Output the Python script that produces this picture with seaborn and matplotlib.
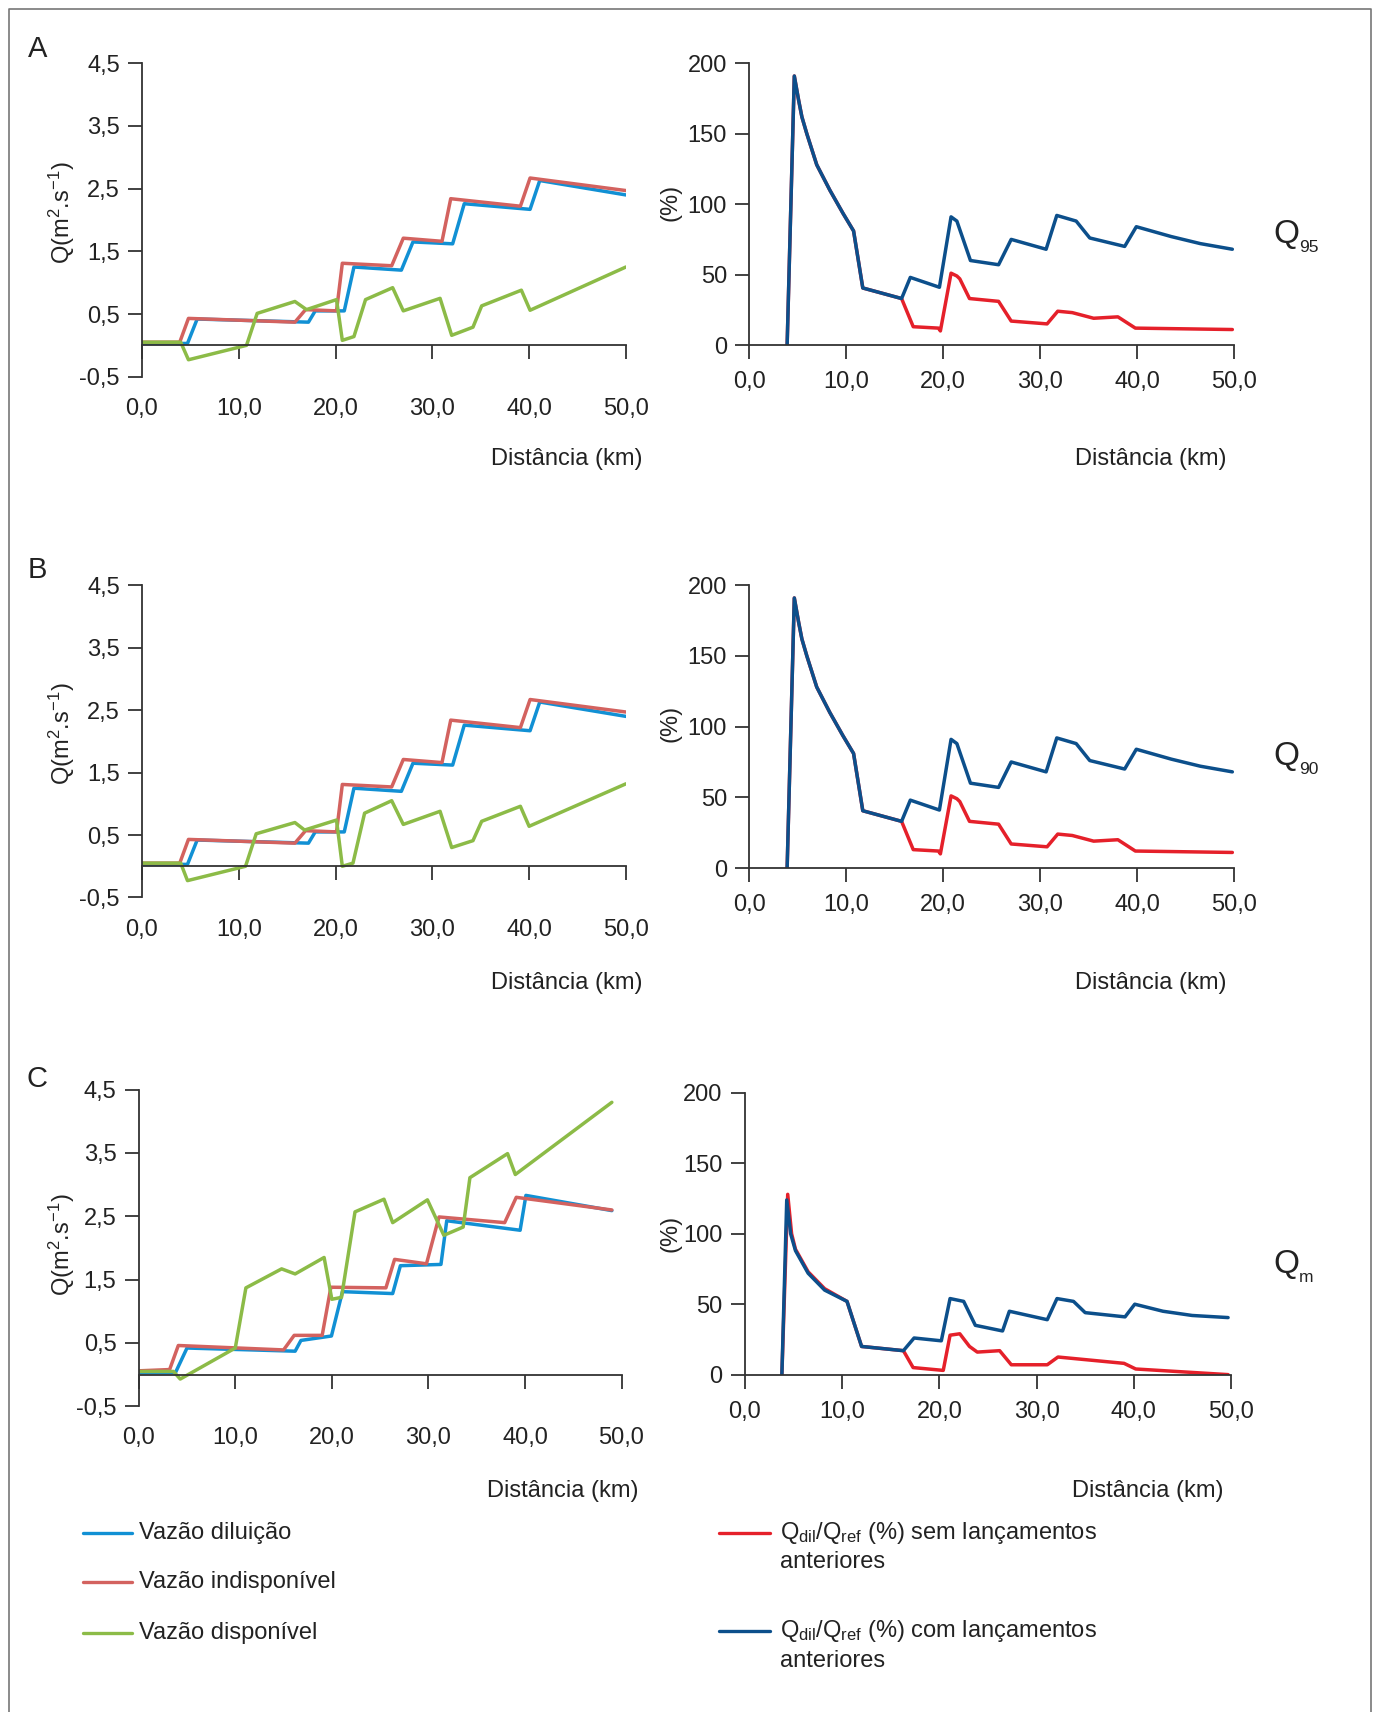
import matplotlib
matplotlib.use("Agg")
import matplotlib.pyplot as plt
import seaborn as sns
from matplotlib.lines import Line2D

# Perfis de vazão ao longo do rio (distância em km) e razão Qdil/Qref (%)

# ---- A (Q95) : vazões ----
dist_dil_A = [0, 4.7, 5.7, 17.2, 17.9, 20.9, 21.9, 26.8, 28.0, 32.1, 33.3, 40.1, 41.1, 50]
q_dil_A = [0.03, 0.03, 0.42, 0.37, 0.55, 0.55, 1.25, 1.20, 1.65, 1.62, 2.26, 2.17, 2.63, 2.40]
dist_ind_A = [0, 3.9, 4.8, 15.8, 16.9, 20.1, 20.7, 25.8, 27.0, 31.0, 31.9, 39.1, 40.1, 50]
q_ind_A = [0.05, 0.05, 0.43, 0.37, 0.57, 0.55, 1.31, 1.27, 1.71, 1.66, 2.34, 2.22, 2.67, 2.47]
dist_disp_A = [0, 4.0, 4.8, 10.8, 11.9, 15.8, 17.0, 20.1, 20.7, 21.9, 23.1, 25.9, 27.0, 30.8,
               32.0, 34.2, 35.1, 39.2, 40.1, 50]
q_disp_A = [0.05, 0.05, -0.23, 0.0, 0.51, 0.70, 0.57, 0.73, 0.08, 0.14, 0.73, 0.92, 0.55, 0.75,
            0.16, 0.29, 0.63, 0.88, 0.56, 1.25]

# ---- A (Q95) : razão (%) ----
dist_com_A = [3.9, 4.64, 5.08, 5.42, 5.93, 6.95, 8.3, 9.66, 10.75, 11.7, 15.7, 16.6, 19.6, 20.8,
              21.4, 22.8, 25.7, 27.0, 30.6, 31.7, 33.7, 35.1, 38.7, 39.9, 43.5, 46.5, 49.8]
pct_com_A = [0, 191, 174, 162, 150, 128, 110, 93.5, 81, 40.5, 33, 48, 41, 91,
             88, 60, 57, 75, 68, 92, 88, 76, 70, 84, 77, 72, 68]
dist_sem_A = [3.9, 4.64, 5.08, 5.42, 5.93, 6.95, 8.3, 9.66, 10.75, 11.7, 15.7, 16.9, 19.5, 19.7,
              20.8, 21.4, 21.7, 22.7, 25.7, 27.0, 30.7, 31.8, 33.3, 35.5, 38.0, 39.8, 49.8]
pct_sem_A = [0, 191, 174, 162, 150, 128, 110, 93.5, 81, 40.5, 33, 13, 12, 10,
             51, 49, 47, 33, 31, 17, 15, 24, 23, 19, 20, 12, 11]

# ---- B (Q90) : só a vazão disponível muda em relação a A ----
dist_disp_B = [0, 4.0, 4.7, 10.7, 11.8, 15.8, 16.8, 20.1, 20.7, 21.8, 23.0, 25.8, 27.0, 30.8,
               32.0, 34.2, 35.1, 39.1, 40.0, 50]
q_disp_B = [0.05, 0.05, -0.23, 0.0, 0.52, 0.70, 0.58, 0.74, 0.0, 0.05, 0.85, 1.05, 0.67, 0.88,
            0.30, 0.41, 0.72, 0.96, 0.64, 1.32]

# ---- C (Qm) : vazões ----
dist_dil_C = [0, 3.8, 5.0, 16.2, 16.8, 19.96, 21.1, 26.3, 27.1, 31.3, 31.9, 39.5, 40.1, 49.0]
q_dil_C = [0.03, 0.03, 0.42, 0.37, 0.54, 0.61, 1.31, 1.28, 1.72, 1.74, 2.43, 2.28, 2.83, 2.59]
dist_ind_C = [0, 3.2, 4.1, 15.0, 16.1, 19.0, 19.9, 25.6, 26.5, 29.8, 31.1, 37.9, 39.1, 49.0]
q_ind_C = [0.06, 0.08, 0.46, 0.39, 0.62, 0.62, 1.38, 1.37, 1.82, 1.75, 2.49, 2.40, 2.80, 2.60]
dist_disp_C = [0, 3.6, 4.3, 10.0, 11.1, 14.8, 16.2, 19.2, 20.0, 21.0, 22.4, 25.4, 26.3, 29.9,
               31.6, 33.6, 34.3, 38.2, 39.0, 49.0]
q_disp_C = [0.05, 0.05, -0.07, 0.42, 1.37, 1.67, 1.59, 1.85, 1.19, 1.22, 2.57, 2.77, 2.40, 2.76,
            2.20, 2.33, 3.11, 3.49, 3.16, 4.30]

# ---- C (Qm) : razão (%) ----
dist_com_C = [3.8, 4.3, 4.7, 5.2, 6.5, 8.2, 10.5, 12.0, 16.3, 17.4, 20.2, 21.1, 22.5, 23.7,
              26.5, 27.2, 31.1, 32.1, 33.8, 35.0, 39.1, 40.1, 43.0, 46.0, 49.7]
pct_com_C = [0, 124, 100, 88, 72, 60, 52, 20, 17, 26, 24, 54, 52, 35,
             31, 45, 39, 54, 52, 44, 41, 50, 45, 42, 40.5]
dist_sem_C = [3.8, 4.4, 4.8, 5.2, 6.5, 8.2, 10.5, 12.0, 16.3, 17.3, 20.4, 21.1, 22.1, 23.1,
              23.9, 26.2, 27.4, 31.1, 32.2, 39.0, 40.2, 49.7]
pct_sem_C = [0, 128, 100, 89, 73, 61, 52, 20, 17, 5, 3, 28, 29, 20,
             16, 17, 7, 7, 12.5, 8, 4, 0]

# Ticks
ticks_q = [-0.5, 0.5, 1.5, 2.5, 3.5, 4.5]
labels_q = ["-0,5", "0,5", "1,5", "2,5", "3,5", "4,5"]
ticks_pct = [0, 50, 100, 150, 200]
ticks_dist = [0, 10, 20, 30, 40, 50]
labels_dist = ["0,0", "10,0", "20,0", "30,0", "40,0", "50,0"]

# Cores
cor_dil = "#1190d4"
cor_ind = "#d3625f"
cor_disp = "#8cbb47"
cor_sem = "#e5202a"
cor_com = "#0c4f8b"
cor_eixo = "#333333"

sns.set_theme(style="white")
plt.rcParams["font.family"] = ["Liberation Sans", "DejaVu Sans"]
plt.rcParams["axes.edgecolor"] = cor_eixo
plt.rcParams["axes.linewidth"] = 1.3

FS = 17
W, H = 1257.0, 1568.0  # referência para posicionar (px da imagem reduzida)

fig = plt.figure(figsize=(13.73, 17.12), dpi=100)
fig.patch.set_facecolor("white")


def box(x0, y_top, x1, y_bot):
    return [x0 / W, 1 - y_bot / H, (x1 - x0) / W, (y_bot - y_top) / H]


def linha(ax, x, y, cor):
    sns.lineplot(x=x, y=y, ax=ax, color=cor, linewidth=2.5, estimator=None, sort=False)


def painel_vazao(ax, series):
    for x, y, cor in series:
        linha(ax, x, y, cor)
    ax.set_xlim(0, 50)
    ax.set_ylim(-0.5, 4.5)
    ax.spines["bottom"].set_position(("data", 0))
    ax.spines[["top", "right"]].set_visible(False)
    ax.set_xticks(ticks_dist)
    ax.set_xticklabels(labels_dist)
    ax.set_yticks(ticks_q)
    ax.set_yticklabels(labels_q)
    ax.tick_params(axis="x", bottom=True, direction="out", length=10, width=1.3,
                   pad=28, labelsize=FS, colors=cor_eixo, labelcolor="#222222")
    ax.tick_params(axis="y", left=True, direction="out", length=10, width=1.3,
                   pad=6, labelsize=FS, colors=cor_eixo, labelcolor="#222222")
    ax.set_xlabel("")
    ax.set_ylabel("")
    ax.patch.set_alpha(0)


def painel_pct(ax, series):
    for x, y, cor in series:
        linha(ax, x, y, cor)
    ax.set_xlim(0, 50)
    ax.set_ylim(0, 200)
    ax.spines[["top", "right"]].set_visible(False)
    ax.set_xticks(ticks_dist)
    ax.set_xticklabels(labels_dist)
    ax.set_yticks(ticks_pct)
    ax.set_yticklabels([str(t) for t in ticks_pct])
    ax.tick_params(axis="x", bottom=True, direction="out", length=10, width=1.3,
                   pad=9, labelsize=FS, colors=cor_eixo, labelcolor="#222222")
    ax.tick_params(axis="y", left=True, direction="out", length=10, width=1.3,
                   pad=6, labelsize=FS, colors=cor_eixo, labelcolor="#222222")
    ax.set_xlabel("")
    ax.set_ylabel("")
    ax.patch.set_alpha(0)


# Painéis esquerdos (vazões)
ax_A1 = fig.add_axes(box(130, 58, 573, 345))
painel_vazao(ax_A1, [(dist_dil_A, q_dil_A, cor_dil), (dist_ind_A, q_ind_A, cor_ind),
                     (dist_disp_A, q_disp_A, cor_disp)])
ax_B1 = fig.add_axes(box(130, 536, 573, 822))
painel_vazao(ax_B1, [(dist_dil_A, q_dil_A, cor_dil), (dist_ind_A, q_ind_A, cor_ind),
                     (dist_disp_B, q_disp_B, cor_disp)])
ax_C1 = fig.add_axes(box(127, 998, 569, 1288))
painel_vazao(ax_C1, [(dist_dil_C, q_dil_C, cor_dil), (dist_ind_C, q_ind_C, cor_ind),
                     (dist_disp_C, q_disp_C, cor_disp)])

# Painéis direitos (%)
ax_A2 = fig.add_axes(box(686, 58, 1130, 316))
painel_pct(ax_A2, [(dist_sem_A, pct_sem_A, cor_sem), (dist_com_A, pct_com_A, cor_com)])
ax_B2 = fig.add_axes(box(686, 536, 1130, 795))
painel_pct(ax_B2, [(dist_sem_A, pct_sem_A, cor_sem), (dist_com_A, pct_com_A, cor_com)])
ax_C2 = fig.add_axes(box(682, 1001, 1127, 1259))
painel_pct(ax_C2, [(dist_sem_C, pct_sem_C, cor_sem), (dist_com_C, pct_com_C, cor_com)])

txt = "#222222"
ylab_q = r"Q(m$\mathregular{^2}$.s$\mathregular{^{-1}}$)"

# Letras, rótulos dos eixos e Q de referência
for letra, y_let, y_ylab, y_ylab2, y_xlab, xl_dir, xr_dir, ysub, sub in [
        ("A", 45, 195, 185, 420, 588, 1123, 215, "95"),
        ("B", 522, 672, 663, 900, 588, 1123, 693, "90"),
        ("C", 988, 1140, 1130, 1366, 585, 1120, 1158, "m")]:
    fig.text(34 / W, 1 - y_let / H, letra, fontsize=21, color=txt, ha="center", va="center")
    fig.text(57 / W, 1 - y_ylab / H, ylab_q, fontsize=FS, color=txt, rotation=90,
             ha="center", va="center")
    fig.text(614 / W, 1 - y_ylab2 / H, "(%)", fontsize=FS, color=txt, rotation=90,
             ha="center", va="center")
    fig.text(xl_dir / W, 1 - y_xlab / H, "Distância (km)", fontsize=FS, color=txt,
             ha="right", va="center")
    fig.text(xr_dir / W, 1 - y_xlab / H, "Distância (km)", fontsize=FS, color=txt,
             ha="right", va="center")
    fig.text(1166 / W, 1 - ysub / H, "Q", fontsize=24, color=txt, ha="left", va="center")
    fig.text(1189 / W, 1 - (ysub + 12) / H, sub, fontsize=12.5, color=txt,
             ha="left", va="center")

# Legenda esquerda
for y_leg, cor, rotulo in [(1404, cor_dil, "Vazão diluição"),
                           (1449, cor_ind, "Vazão indisponível"),
                           (1496, cor_disp, "Vazão disponível")]:
    fig.add_artist(Line2D([76 / W, 121 / W], [1 - y_leg / H, 1 - y_leg / H],
                          transform=fig.transFigure, color=cor, linewidth=2.4))
    fig.text(127 / W, 1 - y_leg / H, rotulo, fontsize=FS, color=txt, ha="left", va="center")

# Legenda direita
for y_leg, cor, rotulo in [(1404, cor_sem, "sem"), (1494, cor_com, "com")]:
    fig.add_artist(Line2D([658 / W, 705 / W], [1 - y_leg / H, 1 - y_leg / H],
                          transform=fig.transFigure, color=cor, linewidth=2.4))
    fig.text(714 / W, 1 - y_leg / H,
             r"Q$\mathregular{_{dil}}$/Q$\mathregular{_{ref}}$ (%) " + rotulo + " lançamentos",
             fontsize=FS, color=txt, ha="left", va="center")
    fig.text(714 / W, 1 - (y_leg + 27) / H, "anteriores", fontsize=FS, color=txt,
             ha="left", va="center")

# Moldura
fig.add_artist(Line2D([8 / W, 8 / W, 1255 / W, 1255 / W], [0, 1 - 8 / H, 1 - 8 / H, 0],
                      transform=fig.transFigure, color="#777777", linewidth=1.2))

plt.savefig("out.png", dpi=100, facecolor="white")
